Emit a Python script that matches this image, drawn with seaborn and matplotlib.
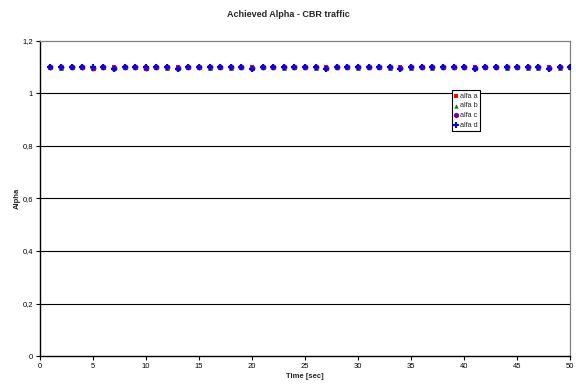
import matplotlib
matplotlib.use("Agg")
import matplotlib.pyplot as plt
import seaborn as sns
import pandas as pd
import numpy as np
from matplotlib.ticker import FuncFormatter

sns.set_theme(style="white")
plt.rcParams['font.family'] = ['Liberation Sans', 'DejaVu Sans']

time_sec = list(range(1, 51))
alfa_a = [1.100, 1.099, 1.100, 1.100, 1.098, 1.100, 1.099, 1.100, 1.100, 1.099,
          1.100, 1.100, 1.099, 1.100, 1.100, 1.099, 1.100, 1.100, 1.100, 1.099,
          1.100, 1.100, 1.099, 1.100, 1.100, 1.099, 1.100, 1.100, 1.100, 1.099,
          1.100, 1.100, 1.099, 1.100, 1.100, 1.100, 1.099, 1.100, 1.100, 1.100,
          1.099, 1.100, 1.100, 1.099, 1.100, 1.100, 1.099, 1.100, 1.099, 1.100]
alfa_b = [1.099, 1.097, 1.099, 1.100, 1.097, 1.099, 1.097, 1.099, 1.100, 1.098,
          1.099, 1.097, 1.098, 1.099, 1.099, 1.098, 1.099, 1.097, 1.099, 1.098,
          1.099, 1.099, 1.097, 1.099, 1.099, 1.097, 1.098, 1.099, 1.099, 1.097,
          1.099, 1.099, 1.098, 1.099, 1.097, 1.099, 1.098, 1.099, 1.099, 1.099,
          1.098, 1.099, 1.099, 1.098, 1.099, 1.097, 1.098, 1.099, 1.097, 1.099]
alfa_c = [1.100, 1.099, 1.100, 1.100, 1.098, 1.100, 1.097, 1.100, 1.100, 1.098,
          1.100, 1.100, 1.097, 1.100, 1.100, 1.099, 1.100, 1.100, 1.100, 1.097,
          1.100, 1.100, 1.099, 1.100, 1.100, 1.099, 1.097, 1.100, 1.100, 1.099,
          1.100, 1.100, 1.099, 1.097, 1.100, 1.100, 1.099, 1.100, 1.100, 1.100,
          1.097, 1.100, 1.100, 1.099, 1.100, 1.100, 1.099, 1.097, 1.099, 1.100]
alfa_d = [1.100, 1.100, 1.100, 1.100, 1.100, 1.100, 1.093, 1.100, 1.100, 1.100,
          1.100, 1.100, 1.093, 1.100, 1.100, 1.100, 1.100, 1.100, 1.100, 1.093,
          1.100, 1.100, 1.100, 1.100, 1.100, 1.100, 1.093, 1.100, 1.100, 1.100,
          1.100, 1.100, 1.100, 1.093, 1.100, 1.100, 1.100, 1.100, 1.100, 1.100,
          1.093, 1.100, 1.100, 1.100, 1.100, 1.100, 1.100, 1.093, 1.100, 1.100]

series_names = ["alfa a", "alfa b", "alfa c", "alfa d"]
series_vals = [alfa_a, alfa_b, alfa_c, alfa_d]

df = pd.DataFrame({
    "Time [sec]": np.tile(time_sec, 4),
    "Alpha": np.concatenate(series_vals),
    "series": np.repeat(series_names, len(time_sec)),
})

colors = {"alfa a": "#ff0000", "alfa b": "#008000", "alfa c": "#800080", "alfa d": "#0000ff"}
markers = {"alfa a": "s", "alfa b": "^", "alfa c": "o", "alfa d": "+"}
sizes = {"alfa a": 10, "alfa b": 12, "alfa c": 18, "alfa d": 22}

fig = plt.figure(figsize=(5.76, 3.85), dpi=100)
ax = fig.add_axes([0.069, 0.075, 0.921, 0.819])

# horizontal gridlines
for yv in [0.2, 0.4, 0.6, 0.8, 1.0]:
    ax.axhline(yv, color="black", lw=0.8, zorder=0)

for name in series_names:
    sub = df[df["series"] == name]
    if markers[name] == "+":
        sns.scatterplot(data=sub, x="Time [sec]", y="Alpha", ax=ax, marker="+",
                        color=colors[name], s=sizes[name], linewidth=1.5,
                        label=name, zorder=3)
    else:
        sns.scatterplot(data=sub, x="Time [sec]", y="Alpha", ax=ax, marker=markers[name],
                        color=colors[name], s=sizes[name], linewidth=0,
                        label=name, zorder=3)

ax.set_xlim(0, 50)
ax.set_ylim(0, 1.2)
ax.set_xticks(range(0, 51, 5))
ax.set_yticks([0, 0.2, 0.4, 0.6, 0.8, 1.0, 1.2])
ax.yaxis.set_major_formatter(FuncFormatter(lambda v, p: ("%g" % round(v, 1)).replace(".", ",")))
ax.tick_params(axis="both", which="major", labelsize=5.5, length=3, width=0.8,
               direction="out", bottom=True, left=True, colors="black", pad=2)

for side in ["left", "bottom"]:
    ax.spines[side].set_color("black")
    ax.spines[side].set_linewidth(1.0)
for side in ["right", "top"]:
    ax.spines[side].set_color("#808080")
    ax.spines[side].set_linewidth(0.9)

ax.set_xlabel("Time [sec]", fontsize=5.5, fontweight="bold", labelpad=2)
ax.set_ylabel("Alpha", fontsize=5.5, fontweight="bold", labelpad=1)
fig.suptitle("Achieved Alpha - CBR traffic", fontsize=6.5, fontweight="bold", y=0.975)

leg = ax.legend(loc="upper left", bbox_to_anchor=(0.777, 0.844), fontsize=5.3,
                frameon=True, fancybox=False, edgecolor="black", framealpha=1,
                handlelength=0.5, handletextpad=0.25, borderpad=0.35,
                labelspacing=0.35, borderaxespad=0, markerscale=0.9)
leg.get_frame().set_linewidth(0.8)

fig.savefig("out.png", dpi=100)
